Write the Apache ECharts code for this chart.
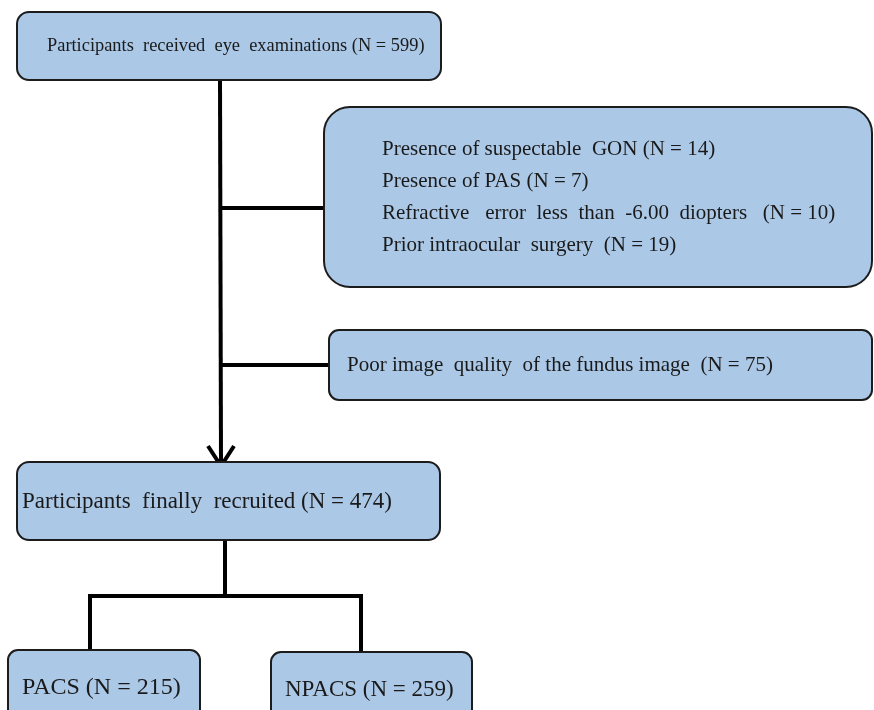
<!DOCTYPE html>
<html>
<head>
<meta charset="utf-8">
<title>Flow of participants</title>
<script src="https://cdn.jsdelivr.net/npm/echarts@6/dist/echarts.min.js"></script>
<style>
  html, body { margin: 0; padding: 0; background: #fff; }
  #main { width: 874px; height: 710px; }
</style>
</head>
<body>
<div id="main"></div>
<script>
// flow chart data
var mainSteps = ['Participants  received  eye  examinations', 'Participants  finally  recruited'];
var mainCounts = [599, 474];
var exclusionReasons = ['Presence of suspectable  GON', 'Presence of PAS', 'Refractive   error  less  than  -6.00  diopters  ', 'Prior intraocular  surgery '];
var exclusionCounts = [14, 7, 10, 19];
var qualityReasons = ['Poor image  quality  of the fundus image '];
var qualityCounts = [75];
var groups = ['PACS', 'NPACS'];
var groupCounts = [215, 259];

var FILL = '#abc8e7';
var STROKE = '#1c1c1c';
var FAMILY = '"Liberation Serif", "Times New Roman", serif';

function label(name, n) {
    return name + ' (N = ' + n + ')';
}

function box(x, y, w, h, r) {
    return {
        type: 'rect',
        shape: { x: x, y: y, width: w, height: h, r: r },
        style: { fill: FILL, stroke: STROKE, lineWidth: 2 }
    };
}

function txt(s, x, y, size) {
    return {
        type: 'text',
        style: {
            text: s, x: x, y: y,
            font: size + 'px ' + FAMILY,
            fill: '#1a1a1a', verticalAlign: 'middle'
        }
    };
}

function line(points) {
    return {
        type: 'polyline',
        shape: { points: points },
        style: { stroke: '#000', lineWidth: 4, fill: null }
    };
}

var elements = [];

// connectors first (under boxes)
elements.push(line([[220, 80], [221, 464]]));
elements.push(line([[220, 208], [324, 208]]));
elements.push(line([[220, 365], [329, 365]]));
elements.push({
    type: 'polyline',
    shape: { points: [[208, 446], [221, 466], [234, 446]] },
    style: { stroke: '#000', lineWidth: 4, fill: null, lineJoin: 'miter' }
});
elements.push(line([[225, 540], [225, 596]]));
elements.push(line([[90, 650], [90, 596], [361, 596], [361, 652]]));

// top box
elements.push(box(17, 12, 424, 68, 12));
elements.push(txt(label(mainSteps[0], mainCounts[0]), 47, 46, 18.4));

// exclusion box
elements.push(box(324, 107, 548, 180, 26));
exclusionReasons.forEach(function (r, i) {
    elements.push(txt(label(r, exclusionCounts[i]), 382, 149 + i * 32, 21));
});

// image quality box
elements.push(box(329, 330, 543, 70, 10));
elements.push(txt(label(qualityReasons[0], qualityCounts[0]), 347, 365, 21));

// recruited box
elements.push(box(17, 462, 423, 78, 12));
elements.push(txt(label(mainSteps[1], mainCounts[1]), 22, 502, 23));

// group boxes
elements.push(box(8, 650, 192, 80, 10));
elements.push(txt(label(groups[0], groupCounts[0]), 22, 688, 24));
elements.push(box(271, 652, 201, 80, 10));
elements.push(txt(label(groups[1], groupCounts[1]), 285, 690, 23));

var chart = echarts.init(document.getElementById('main'));
chart.setOption({
    backgroundColor: '#fff',
    graphic: { elements: elements }
});
</script>
</body>
</html>
